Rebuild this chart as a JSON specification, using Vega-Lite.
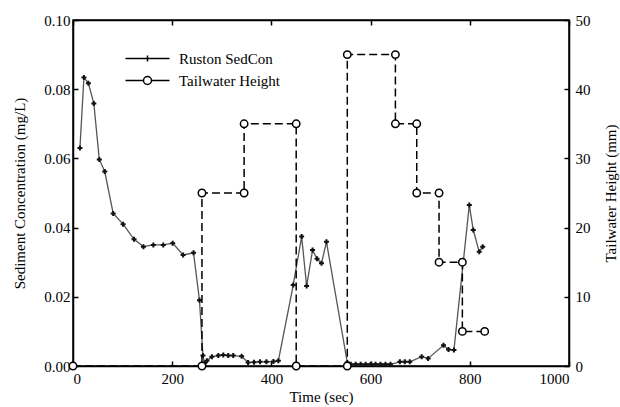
{
  "$schema": "https://vega.github.io/schema/vega-lite/v6.json",
  "width": 496,
  "height": 346,
  "autosize": {"type": "none"},
  "padding": {"left": 73, "top": 20, "right": 51, "bottom": 41},
  "config": {
    "font": "Liberation Serif",
    "view": {"stroke": "black", "strokeWidth": 1.5},
    "axis": {
      "grid": false,
      "domainColor": "black",
      "domainWidth": 1.5,
      "tickColor": "black",
      "tickWidth": 1.5,
      "tickSize": -5,
      "labelColor": "black",
      "titleColor": "black",
      "labelFont": "Liberation Serif",
      "titleFont": "Liberation Serif",
      "labelFontSize": 15,
      "titleFontSize": 15,
      "titleFontWeight": "normal"
    },
    "legend": {
      "labelFont": "Liberation Serif",
      "labelFontSize": 15,
      "labelColor": "black"
    }
  },
  "datasets": {
    "sed": [
      {"t": 14, "c": 0.063}, {"t": 22, "c": 0.0834}, {"t": 31, "c": 0.0817}, {"t": 42, "c": 0.0759},
      {"t": 53, "c": 0.0597}, {"t": 64, "c": 0.0562}, {"t": 81, "c": 0.0441}, {"t": 101, "c": 0.041},
      {"t": 123, "c": 0.0366}, {"t": 142, "c": 0.0345}, {"t": 162, "c": 0.035}, {"t": 182, "c": 0.035},
      {"t": 201, "c": 0.0355}, {"t": 222, "c": 0.0321}, {"t": 243, "c": 0.0327}, {"t": 255, "c": 0.019},
      {"t": 262, "c": 0.003}, {"t": 265, "c": 0.0008}, {"t": 270, "c": 0.0015}, {"t": 280, "c": 0.0027},
      {"t": 293, "c": 0.003}, {"t": 303, "c": 0.0032}, {"t": 313, "c": 0.003}, {"t": 323, "c": 0.003},
      {"t": 340, "c": 0.0028}, {"t": 353, "c": 0.001}, {"t": 365, "c": 0.0011}, {"t": 377, "c": 0.0012},
      {"t": 390, "c": 0.0012}, {"t": 404, "c": 0.0013}, {"t": 414, "c": 0.0015}, {"t": 444, "c": 0.0234},
      {"t": 461, "c": 0.0374}, {"t": 471, "c": 0.0231}, {"t": 483, "c": 0.0335}, {"t": 492, "c": 0.031},
      {"t": 501, "c": 0.0297}, {"t": 511, "c": 0.0359}, {"t": 553, "c": 0.001}, {"t": 560, "c": 0.0005},
      {"t": 570, "c": 0.0005}, {"t": 580, "c": 0.0005}, {"t": 590, "c": 0.0005}, {"t": 600, "c": 0.0005},
      {"t": 610, "c": 0.0005}, {"t": 620, "c": 0.0005}, {"t": 630, "c": 0.0005}, {"t": 640, "c": 0.0005},
      {"t": 659, "c": 0.0012}, {"t": 669, "c": 0.0012}, {"t": 679, "c": 0.0012}, {"t": 703, "c": 0.0027},
      {"t": 716, "c": 0.0022}, {"t": 747, "c": 0.006}, {"t": 757, "c": 0.0048}, {"t": 768, "c": 0.0046},
      {"t": 799, "c": 0.0465}, {"t": 807, "c": 0.0393}, {"t": 819, "c": 0.033}, {"t": 826, "c": 0.0345}
    ],
    "tw": [
      {"i": 1, "t": 0, "h": 0}, {"i": 2, "t": 260, "h": 0}, {"i": 3, "t": 260, "h": 25},
      {"i": 4, "t": 345, "h": 25}, {"i": 5, "t": 345, "h": 35}, {"i": 6, "t": 450, "h": 35},
      {"i": 7, "t": 450, "h": 0}, {"i": 8, "t": 553, "h": 0}, {"i": 9, "t": 553, "h": 45},
      {"i": 10, "t": 650, "h": 45}, {"i": 11, "t": 650, "h": 35}, {"i": 12, "t": 693, "h": 35},
      {"i": 13, "t": 693, "h": 25}, {"i": 14, "t": 738, "h": 25}, {"i": 15, "t": 738, "h": 15},
      {"i": 16, "t": 785, "h": 15}, {"i": 17, "t": 785, "h": 5}, {"i": 18, "t": 830, "h": 5}
    ],
    "leg": [
      {"series": "Ruston SedCon"},
      {"series": "Tailwater Height"}
    ]
  },
  "layer": [
    {
      "layer": [
        {
          "data": {"name": "sed"},
          "mark": {"type": "line", "color": "#555", "strokeWidth": 1.3},
          "encoding": {
            "x": {"field": "t", "type": "quantitative", "scale": {"domain": [0, 1000], "nice": false},
                  "axis": {"orient": "bottom", "values": [0, 200, 400, 600, 800, 1000], "format": "d", "title": "Time (sec)", "labelPadding": 10, "titlePadding": 3}},
            "y": {"field": "c", "type": "quantitative", "scale": {"domain": [0, 0.1], "nice": false},
                  "axis": {"orient": "left", "values": [0, 0.02, 0.04, 0.06, 0.08, 0.1], "format": ".2f", "title": "Sediment Concentration (mg/L)", "labelPadding": 8, "titlePadding": 16}}
          }
        },
        {
          "data": {"name": "sed"},
          "mark": {"type": "point", "shape": "cross", "filled": true, "color": "#111", "size": 25, "opacity": 1},
          "encoding": {
            "x": {"field": "t", "type": "quantitative"},
            "y": {"field": "c", "type": "quantitative"}
          }
        }
      ]
    },
    {
      "layer": [
        {
          "data": {"name": "tw"},
          "mark": {"type": "line", "color": "black", "strokeWidth": 1.5, "strokeDash": [8, 4]},
          "encoding": {
            "x": {"field": "t", "type": "quantitative",
                  "axis": {"orient": "top", "values": [0, 200, 400, 600, 800, 1000], "labels": false, "title": null}},
            "y": {"field": "h", "type": "quantitative", "scale": {"domain": [0, 50], "nice": false},
                  "axis": {"orient": "right", "values": [0, 10, 20, 30, 40, 50], "title": "Tailwater Height (mm)", "titleAngle": 270, "labelPadding": 11, "titlePadding": 28}},
            "order": {"field": "i", "type": "quantitative"}
          }
        },
        {
          "data": {"name": "tw"},
          "mark": {"type": "point", "shape": "circle", "filled": true, "fill": "white", "stroke": "black", "strokeWidth": 1.5, "size": 55, "opacity": 1},
          "encoding": {
            "x": {"field": "t", "type": "quantitative"},
            "y": {"field": "h", "type": "quantitative"}
          }
        }
      ]
    },
    {
      "data": {"name": "leg"},
      "mark": {"type": "point", "opacity": 0},
      "encoding": {
        "shape": {
          "field": "series", "type": "nominal",
          "scale": {
            "domain": ["Ruston SedCon", "Tailwater Height"],
            "range": [
              "M-4.4,0H4.4M0,-0.6V0.6",
              "M-4.4,0H-0.8M0.8,0H4.4M0.8,0A0.8,0.8 0 1,1 -0.8,0A0.8,0.8 0 1,1 0.8,0"
            ]
          },
          "legend": {
            "title": null,
            "orient": "none",
            "legendX": 67,
            "legendY": 31,
            "padding": 0,
            "rowPadding": 6,
            "symbolSize": 100,
            "symbolOpacity": 1,
            "symbolStrokeColor": "black",
            "symbolFillColor": "white",
            "symbolStrokeWidth": 1.5,
            "labelOffset": 24
          }
        }
      }
    }
  ],
  "resolve": {"scale": {"y": "independent"}, "axis": {"x": "independent"}}
}
